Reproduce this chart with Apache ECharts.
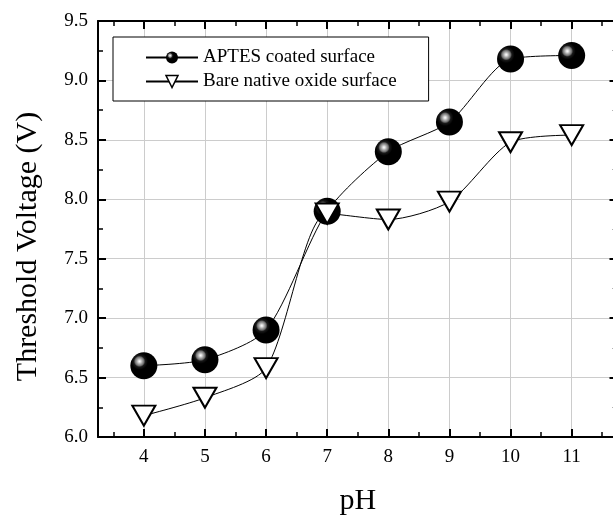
<!DOCTYPE html>
<html><head><meta charset="utf-8">
<script src="https://cdn.jsdelivr.net/npm/echarts@6/dist/echarts.min.js"></script>
<style>html,body{margin:0;padding:0;background:#fff}#c{width:613px;height:518px}</style>
</head><body><div id="c"></div>
<script>
const phValues = [4, 5, 6, 7, 8, 9, 10, 11];
const aptesVoltage = [6.60, 6.65, 6.90, 7.90, 8.40, 8.65, 9.18, 9.21];
const bareVoltage = [6.18, 6.33, 6.58, 7.88, 7.83, 7.98, 8.48, 8.54];
const seriesNames = ['APTES coated surface', 'Bare native oxide surface'];
const xAxisTitle = 'pH';
const yAxisTitle = 'Threshold Voltage (V)';

const FONT = 'Liberation Serif';
const sphere = {
  type: 'radial', x: 0.34, y: 0.34, r: 0.62,
  colorStops: [
    {offset: 0, color: '#ffffff'},
    {offset: 0.07, color: '#e0e0e0'},
    {offset: 0.16, color: '#a8a8a8'},
    {offset: 0.26, color: '#707070'},
    {offset: 0.34, color: '#1a1a1a'},
    {offset: 0.5, color: '#000000'},
    {offset: 1, color: '#000000'}
  ]
};
const triStyle = {color: '#fff', borderColor: '#000', borderWidth: 2};

const axisCommon = {
  axisLine: {show: true, onZero: false, lineStyle: {color: '#000', width: 2}},
  axisTick: {show: true, inside: true, length: 8, lineStyle: {color: '#000', width: 2}},
  minorTick: {show: true, splitNumber: 2, length: 5, lineStyle: {color: '#000', width: 1.5}},
};

const chart = echarts.init(document.getElementById('c'), null, {renderer: 'canvas'});
chart.setOption({
  animation: false,
  backgroundColor: '#fff',
  grid: {left: 98, top: 21, width: 519.5, height: 416, containLabel: false, outerBoundsMode: 'none'},
  legend: {
    orient: 'vertical', left: 113, top: 37,
    padding: [11, 32, 10, 32], itemGap: 5,
    itemWidth: 52, itemHeight: 15,
    borderColor: '#000', borderWidth: 1, backgroundColor: '#fff',
    textStyle: {fontFamily: FONT, fontSize: 19, color: '#000', lineHeight: 19},
    selectedMode: false,
    data: [
      {name: seriesNames[0], itemStyle: {color: sphere, borderWidth: 0}},
      {name: seriesNames[1], itemStyle: {color: '#fff', borderColor: '#000', borderWidth: 1.5}}
    ]
  },
  xAxis: [
    Object.assign({
      type: 'value', position: 'bottom', min: 3.25, max: 11.75, splitNumber: 9,
      axisLabel: {fontFamily: FONT, fontSize: 19, color: '#000', margin: 11,
        formatter: v => Number.isInteger(v) ? String(v) : ''},
      splitLine: {show: true, lineStyle: {color: '#cccccc', width: 1}},
      name: xAxisTitle, nameLocation: 'middle', nameGap: 49,
      nameTextStyle: {fontFamily: FONT, fontSize: 30, color: '#000'}
    }, axisCommon),
    Object.assign({
      type: 'value', position: 'top', min: 3.25, max: 11.75, splitNumber: 9,
      axisLabel: {show: false}, splitLine: {show: false}
    }, axisCommon)
  ],
  yAxis: [
    Object.assign({
      type: 'value', position: 'left', min: 6, max: 9.5, interval: 0.5,
      axisLabel: {fontFamily: FONT, fontSize: 19, color: '#000', margin: 10,
        formatter: v => v.toFixed(1)},
      splitLine: {show: true, lineStyle: {color: '#cccccc', width: 1}},
      name: yAxisTitle, nameLocation: 'middle', nameGap: 55,
      nameTextStyle: {fontFamily: FONT, fontSize: 30, color: '#000', padding: [0, 35, 0, 0]}
    }, axisCommon),
    Object.assign({
      type: 'value', position: 'right', min: 6, max: 9.5, interval: 0.5,
      axisLabel: {show: false}, splitLine: {show: false}
    }, axisCommon, {
      minorTick: {show: true, splitNumber: 2, length: 5, lineStyle: {color: '#666', width: 1}}
    })
  ],
  series: [
    {
      name: seriesNames[0], type: 'line', xAxisIndex: 0, yAxisIndex: 0,
      data: phValues.map((x, i) => [x, aptesVoltage[i]]),
      smooth: 0.25, symbol: 'circle', symbolSize: 27,
      itemStyle: {color: sphere, borderWidth: 0},
      lineStyle: {color: '#000', width: 1},
      emphasis: {disabled: true}, z: 3
    },
    {
      name: seriesNames[1], type: 'line', xAxisIndex: 0, yAxisIndex: 0,
      data: phValues.map((x, i) => [x, bareVoltage[i]]),
      smooth: 0.25, symbol: 'triangle', symbolRotate: 180, symbolSize: [23, 20],
      itemStyle: triStyle,
      lineStyle: {color: '#000', width: 1},
      emphasis: {disabled: true}, z: 4
    }
  ]
});
</script></body></html>
